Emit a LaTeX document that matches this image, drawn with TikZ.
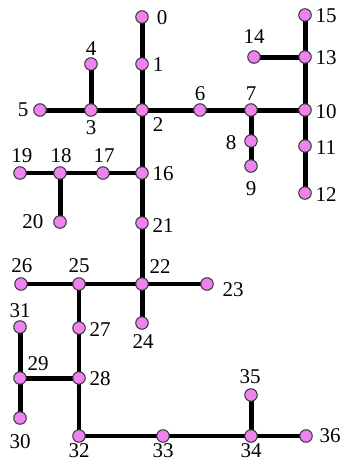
\documentclass[tikz,border=0pt]{standalone}
\usepackage{fontspec}
\setmainfont{Liberation Serif}
\begin{document}
\begin{tikzpicture}[x=1pt,y=-1pt,
  bus/.style={circle,draw=black!80,line width=1pt,fill={rgb,255:red,238;green,130;blue,238},minimum size=12.5pt,inner sep=0pt},
  lab/.style={inner sep=0pt,font=\fontsize{21}{24}\selectfont},
  ln/.style={line width=5pt},
  lt/.style={line width=4pt}]
\useasboundingbox (0,0) rectangle (345,461);
% buses
\coordinate (c0) at (142,17);
\coordinate (c1) at (142,64);
\coordinate (c2) at (142,110);
\coordinate (c3) at (91,110);
\coordinate (c4) at (91,64);
\coordinate (c5) at (40,110);
\coordinate (c6) at (200,110);
\coordinate (c7) at (251,110);
\coordinate (c8) at (251,141);
\coordinate (c9) at (251,166);
\coordinate (c10) at (305,110);
\coordinate (c11) at (305,146);
\coordinate (c12) at (305,193);
\coordinate (c13) at (305,57);
\coordinate (c14) at (254,57);
\coordinate (c15) at (305,15);
\coordinate (c16) at (142,173);
\coordinate (c17) at (103,173);
\coordinate (c18) at (60,173);
\coordinate (c19) at (20,173);
\coordinate (c20) at (60,222);
\coordinate (c21) at (142,223);
\coordinate (c22) at (142,284);
\coordinate (c23) at (207,284);
\coordinate (c24) at (142,323);
\coordinate (c25) at (79,284);
\coordinate (c26) at (21,284);
\coordinate (c27) at (79,328);
\coordinate (c28) at (79,378);
\coordinate (c29) at (20,378);
\coordinate (c30) at (20,418);
\coordinate (c31) at (20,327);
\coordinate (c32) at (79,436);
\coordinate (c33) at (163,436);
\coordinate (c34) at (251,436);
\coordinate (c35) at (251,395);
\coordinate (c36) at (306,436);
% lines
\draw[ln] (c0) -- (c1);
\draw[ln] (c1) -- (c2);
\draw[ln] (c2) -- (c3);
\draw[ln] (c3) -- (c4);
\draw[ln] (c3) -- (c5);
\draw[ln] (c2) -- (c6);
\draw[ln] (c6) -- (c7);
\draw[ln] (c7) -- (c8);
\draw[ln] (c8) -- (c9);
\draw[ln] (c7) -- (c10);
\draw[ln] (c10) -- (c13);
\draw[ln] (c13) -- (c14);
\draw[ln] (c13) -- (c15);
\draw[ln] (c10) -- (c11);
\draw[ln] (c11) -- (c12);
\draw[ln] (c2) -- (c16);
\draw[lt] (c16) -- (c17);
\draw[lt] (c17) -- (c18);
\draw[lt] (c18) -- (c19);
\draw[ln] (c18) -- (c20);
\draw[ln] (c16) -- (c21);
\draw[ln] (c21) -- (c22);
\draw[lt] (c22) -- (c23);
\draw[ln] (c22) -- (c24);
\draw[lt] (c22) -- (c25);
\draw[lt] (c25) -- (c26);
\draw[lt] (c25) -- (c27);
\draw[lt] (c27) -- (c28);
\draw[ln] (c28) -- (c29);
\draw[ln] (c29) -- (c31);
\draw[ln] (c29) -- (c30);
\draw[lt] (c28) -- (c32);
\draw[lt] (c32) -- (c33);
\draw[lt] (c33) -- (c34);
\draw[ln] (c34) -- (c35);
\draw[lt] (c34) -- (c36);
% bus nodes
\foreach \i in {0,...,36} { \node[bus] (n\i) at (c\i) {}; }
% labels
\node[lab] (l0) at (162,18) {0};
\node[lab] (l1) at (158,65) {1};
\node[lab] (l2) at (158,125) {2};
\node[lab] (l3) at (91,128) {3};
\node[lab] (l4) at (91,49) {4};
\node[lab] (l5) at (23,110) {5};
\node[lab] (l6) at (200,94) {6};
\node[lab] (l7) at (251,94) {7};
\node[lab] (l8) at (231,143) {8};
\node[lab] (l9) at (251,189) {9};
\node[lab] (l10) at (326,112) {10};
\node[lab] (l11) at (326,148) {11};
\node[lab] (l12) at (326,195) {12};
\node[lab] (l13) at (326,58) {13};
\node[lab] (l14) at (254,37) {14};
\node[lab] (l15) at (326,16) {15};
\node[lab] (l16) at (163,174) {16};
\node[lab] (l17) at (104,156) {17};
\node[lab] (l18) at (61,156) {18};
\node[lab] (l19) at (22,156) {19};
\node[lab] (l20) at (33,222) {20};
\node[lab] (l21) at (163,226) {21};
\node[lab] (l22) at (160,267) {22};
\node[lab] (l23) at (233,290) {23};
\node[lab] (l24) at (143,342) {24};
\node[lab] (l25) at (79,266) {25};
\node[lab] (l26) at (22,266) {26};
\node[lab] (l27) at (100,330) {27};
\node[lab] (l28) at (100,379) {28};
\node[lab] (l29) at (38,364) {29};
\node[lab] (l30) at (20,442) {30};
\node[lab] (l31) at (20,311) {31};
\node[lab] (l32) at (79,451) {32};
\node[lab] (l33) at (163,451) {33};
\node[lab] (l34) at (251,451) {34};
\node[lab] (l35) at (250,377) {35};
\node[lab] (l36) at (330,436) {36};
\end{tikzpicture}
\end{document}
